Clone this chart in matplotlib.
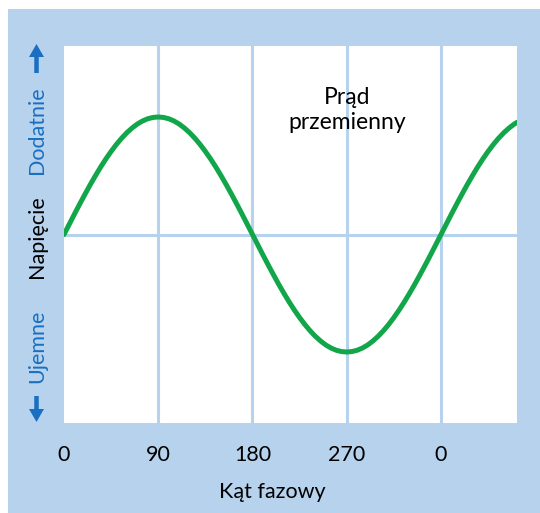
import matplotlib
matplotlib.use("Agg")
import matplotlib.pyplot as plt
from matplotlib.patches import Rectangle, FancyArrow

# ── Dane (co 5°) ────────────────────────────────────────────────────────────
katy = list(range(0, 435, 5)) + [433]
katy = sorted(set(katy))
napiecie = [0.000, 0.087, 0.174, 0.259, 0.342, 0.423, 0.500, 0.574, 0.643,
            0.707, 0.766, 0.819, 0.866, 0.906, 0.940, 0.966, 0.985, 0.996,
            1.000, 0.996, 0.985, 0.966, 0.940, 0.906, 0.866, 0.819, 0.766,
            0.707, 0.643, 0.574, 0.500, 0.423, 0.342, 0.259, 0.174, 0.087,
            0.000, -0.087, -0.174, -0.259, -0.342, -0.423, -0.500, -0.574,
            -0.643, -0.707, -0.766, -0.819, -0.866, -0.906, -0.940, -0.966,
            -0.985, -0.996, -1.000, -0.996, -0.985, -0.966, -0.940, -0.906,
            -0.866, -0.819, -0.766, -0.707, -0.643, -0.574, -0.500, -0.423,
            -0.342, -0.259, -0.174, -0.087, 0.000, 0.087, 0.174, 0.259,
            0.342, 0.423, 0.500, 0.574, 0.643, 0.707, 0.766, 0.819, 0.866,
            0.906, 0.940, 0.956]
ticki = [0, 90, 180, 270, 360]
ticki_etykiety = ["0", "90", "180", "270", "0"]

NIEBIESKI_TLO = "#b7d2ed"
NIEBIESKI_TXT = "#1a6fc0"
ZIELONY = "#12a64a"
FS = 15.5

plt.rcParams["font.family"] = "Lato"

fig = plt.figure(figsize=(5.40, 5.13), dpi=100)
fig.patch.set_facecolor("white")
fig.add_artist(Rectangle((8 / 540, 0), 1, (513 - 9) / 513,
                         transform=fig.transFigure, facecolor=NIEBIESKI_TLO,
                         edgecolor="none", zorder=0))

ax = fig.add_axes([64 / 540, (513 - 423) / 513, 453 / 540, 377 / 513])
ax.set_facecolor("white")
for s in ax.spines.values():
    s.set_visible(False)

for t in ticki[1:]:
    ax.axvline(t, color=NIEBIESKI_TLO, linewidth=2.2, zorder=1)
ax.axhline(0, color=NIEBIESKI_TLO, linewidth=2.2, zorder=1)

ax.plot(katy, napiecie, color=ZIELONY, linewidth=3.6,
        solid_capstyle="round", solid_joinstyle="round", zorder=3)

ax.set_xlim(0, 432.6)
ax.set_ylim(-1.604, 1.604)
ax.set_xticks(ticki)
ax.set_xticklabels(ticki_etykiety, fontsize=FS)
ax.tick_params(axis="x", length=0, pad=16)
ax.set_yticks([])

ax.text(270, 1.06, "Prąd\nprzemienny", ha="center", va="center",
        fontsize=FS + 1, linespacing=1.2)

fig.text(272 / 540, 1 - 492 / 513, "Kąt fazowy", ha="center", va="center",
         fontsize=FS)

fig.text(37 / 540, 1 - 130 / 513, "Dodatnie", rotation=90, ha="center",
         va="center", fontsize=FS, color=NIEBIESKI_TXT)
fig.text(37 / 540, 1 - 237 / 513, "Napięcie", rotation=90, ha="center",
         va="center", fontsize=FS, color="black")
fig.text(37 / 540, 1 - 346 / 513, "Ujemne", rotation=90, ha="center",
         va="center", fontsize=FS, color=NIEBIESKI_TXT)

# strzałki
tr = fig.dpi_scale_trans
fig.add_artist(FancyArrow(0.365, (513 - 73) / 100, 0, 0.29, width=0.045,
                          head_width=0.15, head_length=0.13,
                          length_includes_head=True, transform=tr,
                          color=NIEBIESKI_TXT, linewidth=0))
fig.add_artist(FancyArrow(0.365, (513 - 396) / 100, 0, -0.26, width=0.045,
                          head_width=0.15, head_length=0.13,
                          length_includes_head=True, transform=tr,
                          color=NIEBIESKI_TXT, linewidth=0))

fig.savefig("out.png", dpi=100, facecolor="white")
